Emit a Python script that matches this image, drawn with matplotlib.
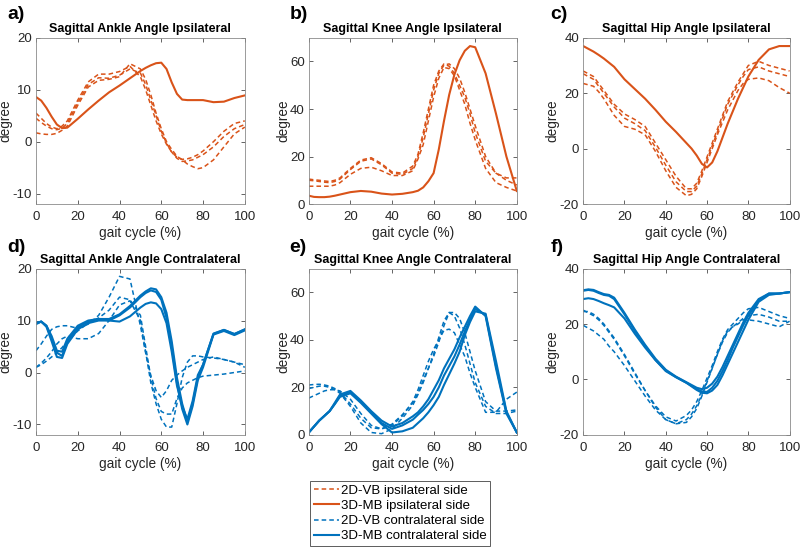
import numpy as np
import matplotlib
matplotlib.use("Agg")
import matplotlib.pyplot as plt

plt.rcParams['font.family'] = ['Liberation Sans', 'DejaVu Sans']
plt.rcParams['axes.unicode_minus'] = False

# gait cycle sample positions (%)
gait = [0, 2.5, 5, 7.5, 10, 12.5, 15, 20, 25, 30, 35, 40, 45, 50, 52.5, 55, 57.5,
        60, 62.5, 65, 67.5, 70, 72.5, 75, 77.5, 80, 85, 90, 95, 100]

# a) ankle ipsilateral
ank_ipsi_2d = [
    [5.5, 4.5, 3.5, 2.8, 2.5, 3.0, 4.0, 8.0, 11.5, 13.0, 13.0, 13.5, 14.5, 12.5, 10.0, 7.0, 4.0,
     1.5, -0.5, -2.0, -3.0, -3.4, -3.3, -3.0, -2.5, -1.8, 0.0, 2.0, 3.5, 4.0],
    [4.5, 3.7, 3.0, 2.5, 2.3, 2.6, 3.5, 7.5, 11.0, 12.3, 12.2, 12.8, 14.0, 13.2, 11.0, 8.0, 5.0,
     2.0, -0.3, -2.0, -3.2, -3.8, -3.7, -3.5, -3.0, -2.5, -1.0, 1.0, 2.5, 3.3],
    [1.7, 1.5, 1.4, 1.4, 1.6, 2.2, 3.0, 7.0, 10.5, 11.8, 12.0, 12.5, 15.0, 14.0, 12.0, 9.0, 5.5,
     2.5, 0.0, -1.5, -2.8, -3.5, -4.3, -4.8, -5.2, -5.0, -3.5, -1.0, 1.5, 2.8],
]
ank_ipsi_3d = [
    [8.6, 7.9, 6.5, 4.8, 3.3, 2.6, 2.7, 4.4, 6.2, 7.9, 9.5, 10.8, 12.2, 13.6, 14.2, 14.7, 15.1,
     15.2, 14.0, 11.4, 9.2, 8.1, 8.0, 8.0, 8.0, 8.0, 7.6, 7.7, 8.4, 8.9],
]

# b) knee ipsilateral
knee_ipsi_2d = [
    [10.5, 10.2, 10.0, 9.7, 9.5, 10.0, 11.0, 15.0, 18.5, 19.5, 17.0, 13.5, 13.0, 16.0, 21.0, 30.0, 40.0,
     50.0, 56.0, 59.0, 58.0, 55.0, 50.0, 45.0, 38.0, 30.0, 18.0, 13.0, 11.0, 11.0],
    [10.0, 9.8, 9.5, 9.2, 9.0, 9.5, 10.5, 14.5, 18.0, 19.0, 16.5, 13.0, 12.5, 15.0, 20.0, 28.0, 38.0,
     48.0, 55.0, 58.5, 59.0, 57.0, 53.0, 47.0, 40.0, 33.0, 20.0, 13.0, 10.0, 8.0],
    [7.5, 7.5, 7.5, 7.5, 7.5, 8.0, 9.0, 12.5, 15.0, 15.5, 14.0, 12.0, 12.0, 14.0, 19.0, 25.0, 35.0,
     45.0, 53.0, 57.5, 57.0, 54.0, 48.0, 42.0, 34.0, 27.0, 15.0, 9.0, 7.0, 5.5],
]
knee_ipsi_3d = [
    [3.5, 3.0, 2.9, 2.9, 3.1, 3.5, 4.0, 5.0, 5.5, 5.2, 4.4, 4.0, 4.3, 5.0, 5.6, 7.0, 9.6,
     13.0, 23.0, 35.0, 46.0, 54.5, 60.5, 64.5, 66.5, 66.0, 55.0, 38.0, 20.0, 5.5],
]

# c) hip ipsilateral
hip_ipsi_2d = [
    [28, 27, 26, 23.5, 21, 18.5, 16, 12.5, 10.5, 8, 2, -4, -10, -14.5, -14.5, -12.5, -8,
     -3, 2, 7, 12, 17, 20.5, 24, 27, 30, 31.5, 30, 29, 28],
    [27, 26, 25, 22.5, 20, 17.5, 15, 11, 9, 6.5, 0.5, -6, -12, -15.5, -15.5, -13.5, -9,
     -4, 1, 6, 11, 16, 19.5, 23, 26, 28.5, 29.5, 28, 27, 26],
    [23.5, 23, 22.5, 20.5, 18, 15, 12, 8, 7, 5, -1, -8, -14, -17, -16.5, -14.5, -10,
     -5, 0, 5, 9.5, 14, 17.5, 21, 23.5, 25, 25.5, 24.5, 22, 20],
]
hip_ipsi_3d = [
    [37, 36, 35, 33.8, 32.5, 31, 29.5, 25, 21.5, 18, 14, 9.7, 6, 2, 0, -2.5, -5.5,
     -6.8, -5, -1, 4, 9, 13.5, 18, 22, 26, 32, 35.8, 37, 37],
]

# d) ankle contralateral
ank_contra_2d = [
    [4.2, 5.5, 7.0, 8.3, 8.8, 9.0, 9.0, 8.5, 9.3, 11.0, 14.5, 18.5, 18.0, 9.0, 3.8, -0.6, -3.5,
     -4.8, -3.5, -1.5, -0.5, 0.3, 1.0, 1.5, 2.0, 2.5, 3.0, 2.5, 2.0, 1.5],
    [1.0, 1.5, 2.2, 3.0, 3.8, 4.8, 6.0, 8.0, 9.5, 10.5, 12.0, 14.5, 14.0, 11.0, 5.0, -1.0, -5.0,
     -7.5, -8.0, -8.0, -5.0, -3.0, -2.0, -1.5, -1.0, -0.7, -0.5, -0.3, 0.0, 0.3],
    [1.0, 1.8, 2.8, 4.0, 5.5, 6.5, 7.0, 6.5, 6.5, 7.5, 10.0, 13.0, 13.8, 10.0, 4.0, -2.0, -6.0,
     -9.0, -10.5, -10.5, -6.0, -1.0, 2.0, 3.2, 3.2, 3.0, 2.8, 2.5, 2.0, 1.0],
]
ank_contra_3d = [
    [9.3, 9.8, 9.0, 6.5, 3.8, 3.2, 6.0, 8.7, 9.8, 10.3, 10.3, 11.2, 12.8, 14.8, 15.6, 16.2, 16.0,
     14.5, 11.5, 6.0, -1.0, -6.0, -9.5, -6.0, -1.0, 1.5, 7.4, 8.2, 7.4, 8.3],
    [9.5, 9.8, 8.8, 6.0, 3.0, 2.8, 5.5, 8.3, 9.5, 10.0, 10.0, 11.0, 12.5, 14.5, 15.3, 15.8, 15.5,
     14.0, 10.5, 5.0, -2.0, -7.0, -10.0, -6.5, -1.5, 1.0, 7.3, 8.0, 7.2, 8.1],
    [9.5, 9.8, 9.0, 7.0, 4.2, 4.0, 6.5, 9.0, 10.0, 10.3, 10.0, 9.8, 10.8, 12.5, 13.2, 13.5, 13.3,
     12.2, 9.5, 4.0, -2.5, -6.5, -9.0, -5.5, -0.5, 1.5, 7.5, 8.2, 7.4, 8.3],
]

# e) knee contralateral
knee_contra_2d = [
    [21.0, 21.2, 21.3, 21.0, 20.5, 19.5, 18.0, 13.0, 7.0, 3.0, 2.5, 4.5, 8.5, 13.5, 17.5, 23.0, 28.0,
     33.0, 39.0, 46.0, 51.5, 51.5, 49.0, 43.0, 35.0, 27.0, 14.0, 10.0, 10.0, 10.5],
    [19.5, 20.0, 20.5, 20.5, 20.0, 19.0, 17.5, 12.0, 5.0, 1.0, 0.5, 2.5, 7.0, 12.5, 17.0, 22.0, 28.0,
     34.0, 41.0, 48.0, 51.5, 50.0, 45.0, 38.0, 30.0, 22.0, 12.0, 9.0, 9.0, 10.0],
    [15.5, 16.5, 17.5, 18.5, 19.0, 19.0, 18.5, 15.0, 9.0, 4.0, 2.5, 4.0, 8.0, 14.0, 19.0, 25.0, 31.0,
     36.0, 40.0, 44.0, 44.5, 43.0, 38.0, 33.0, 26.0, 20.0, 9.5, 9.5, 15.0, 18.0],
]
knee_contra_3d = [
    [1.0, 3.5, 6.0, 8.0, 10.0, 13.5, 17.0, 18.5, 14.5, 10.0, 6.0, 3.5, 5.0, 7.8, 9.5, 12.0, 15.0,
     19.0, 23.0, 28.0, 32.0, 36.0, 41.0, 45.5, 50.0, 54.0, 50.0, 28.0, 9.0, 1.0],
    [1.0, 3.5, 6.0, 8.0, 10.0, 13.0, 16.5, 18.0, 14.0, 9.5, 5.0, 2.5, 4.0, 6.4, 8.5, 10.5, 13.0,
     16.0, 20.0, 25.0, 29.0, 33.0, 38.0, 43.5, 48.5, 53.0, 50.5, 29.0, 9.5, 1.0],
    [1.0, 3.5, 6.0, 8.0, 10.0, 13.0, 16.0, 17.5, 13.5, 9.0, 4.5, 1.0, 1.5, 3.0, 5.0, 7.0, 9.5,
     12.5, 16.0, 21.0, 25.5, 30.0, 35.0, 42.0, 47.5, 52.0, 51.0, 31.0, 10.0, 1.0],
]

# f) hip contralateral
hip_contra_2d = [
    [25.0, 24.0, 23.0, 21.5, 19.5, 17.0, 14.5, 8.5, 2.0, -4.0, -9.5, -13.5, -15.0, -13.0, -11.0, -8.0, -4.0,
     0.5, 5.0, 10.0, 14.5, 18.0, 20.0, 22.0, 24.0, 25.5, 26.0, 24.5, 23.0, 22.0],
    [24.5, 24.5, 23.5, 22.0, 20.0, 17.5, 15.0, 9.0, 2.5, -4.0, -10.0, -14.5, -16.0, -14.5, -12.5, -9.5, -5.5,
     -0.5, 4.0, 9.0, 13.5, 17.0, 19.0, 20.5, 22.0, 23.0, 23.5, 22.5, 21.0, 21.0],
    [19.5, 18.5, 17.5, 16.0, 14.5, 12.0, 10.0, 5.0, -0.5, -6.0, -11.0, -14.5, -16.0, -15.5, -13.5, -10.5, -6.0,
     -1.0, 4.0, 9.0, 14.0, 17.5, 19.0, 20.0, 21.5, 21.5, 21.0, 20.0, 19.0, 21.0],
]
hip_contra_3d = [
    [32.2, 32.5, 32.3, 31.5, 30.8, 30.5, 29.5, 24.0, 18.0, 12.5, 7.5, 3.5, 1.0, -1.0, -2.0, -3.0, -3.5,
     -3.0, -1.5, 1.0, 4.5, 8.5, 12.5, 16.5, 20.5, 24.0, 29.0, 31.0, 31.0, 31.5],
    [32.0, 32.3, 32.0, 31.2, 30.5, 30.2, 29.0, 23.5, 17.5, 12.0, 7.0, 3.2, 0.8, -1.2, -2.3, -3.5, -4.3,
     -4.5, -3.0, -0.5, 3.0, 7.0, 11.5, 15.5, 19.5, 23.0, 28.5, 31.0, 31.0, 31.5],
    [29.0, 29.3, 29.0, 28.3, 27.5, 26.8, 26.0, 22.0, 16.5, 11.5, 7.0, 3.0, 0.8, -1.2, -2.5, -3.8, -4.8,
     -5.0, -4.0, -2.0, 1.5, 5.5, 9.5, 13.5, 17.5, 21.5, 28.0, 30.5, 31.0, 31.5],
]

titles = ['Sagittal Ankle Angle Ipsilateral', 'Sagittal Knee Angle Ipsilateral',
          'Sagittal Hip Angle Ipsilateral', 'Sagittal Ankle Angle Contralateral',
          'Sagittal Knee Angle Contralateral', 'Sagittal Hip Angle Contralateral']
letters = ['a)', 'b)', 'c)', 'd)', 'e)', 'f)']
ylims = [(-12, 20), (0, 70), (-20, 40), (-12, 20), (0, 70), (-20, 40)]
yticks = [[-10, 0, 10, 20], [0, 20, 40, 60], [-20, 0, 20, 40],
          [-10, 0, 10, 20], [0, 20, 40, 60], [-20, 0, 20, 40]]
data_2d = [ank_ipsi_2d, knee_ipsi_2d, hip_ipsi_2d, ank_contra_2d, knee_contra_2d, hip_contra_2d]
data_3d = [ank_ipsi_3d, knee_ipsi_3d, hip_ipsi_3d, ank_contra_3d, knee_contra_3d, hip_contra_3d]

orange = '#D95319'
blue = '#0072BD'
txt = '#262626'

fig = plt.figure(figsize=(8, 5.47), dpi=100)
lefts = [0.045, 0.386, 0.729]
widths = [0.261, 0.260, 0.258]
bottoms = [0.627, 0.205]
height = 0.304
label_x = [0.009, 0.362, 0.688]
label_y = [0.973, 0.548]

for i in range(6):
    r, c = divmod(i, 3)
    ax = fig.add_axes([lefts[c], bottoms[r], widths[c], height])
    col = orange if r == 0 else blue
    for ser in data_2d[i]:
        ax.plot(gait, ser, color=col, lw=1.1, ls=(0, (3, 2)))
    for ser in data_3d[i]:
        ax.plot(gait, ser, color=col, lw=1.5)
    ax.set_xlim(0, 100)
    ax.set_ylim(*ylims[i])
    ax.set_xticks([0, 20, 40, 60, 80, 100])
    ax.set_yticks(yticks[i])
    ax.tick_params(direction='in', top=True, right=True, labelsize=9.5, colors=txt,
                   length=3, width=0.5)
    ax.tick_params(axis='x', pad=5)
    ax.tick_params(axis='y', pad=3)
    for sp in ax.spines.values():
        sp.set_color('#8a8a8a')
        sp.set_linewidth(0.6)
    ax.set_xlabel('gait cycle (%)', fontsize=9.8, color=txt, labelpad=2)
    ax.set_ylabel('degree', fontsize=9.8, color=txt, labelpad=0)
    ax.set_title(titles[i], fontsize=9, fontweight='bold', color='black', pad=4)
    fig.text(label_x[c], label_y[r], letters[i], fontsize=14, fontweight='bold',
             ha='left', va='center')

h1, = plt.plot([], [], color=orange, lw=1.1, ls=(0, (3, 2)))
h2, = plt.plot([], [], color=orange, lw=1.5)
h3, = plt.plot([], [], color=blue, lw=1.1, ls=(0, (3, 2)))
h4, = plt.plot([], [], color=blue, lw=1.5)
leg = fig.legend([h1, h2, h3, h4],
                 ['2D-VB ipsilateral side', '3D-MB ipsilateral side',
                  '2D-VB contralateral side', '3D-MB contralateral side'],
                 loc='lower center', bbox_to_anchor=(0.5, 0.0), fontsize=9.5,
                 frameon=True, fancybox=False, edgecolor='#333333', handlelength=1.9,
                 handletextpad=0.15, labelspacing=0.22, borderpad=0.25, borderaxespad=0.1)
leg.get_frame().set_linewidth(0.7)

fig.savefig('out.png', dpi=100)
